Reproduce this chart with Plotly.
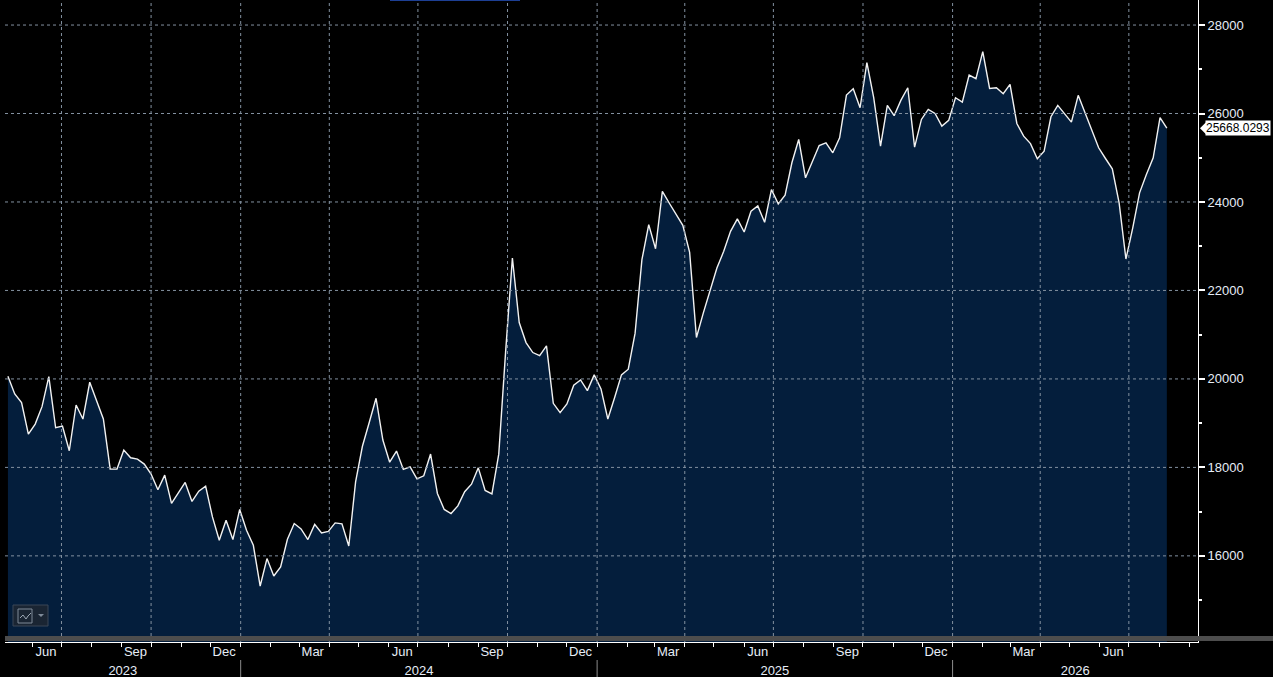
import pandas as pd
import plotly.graph_objects as go

# Serie semanal
START_DATE = "2023-05-07"
RANGE_START = "2023-05-04"
RANGE_END = "2026-09-10"

PRICES = [
    20060, 19660, 19463, 18754, 18980, 19373, 20052, 18897, 18935, 18376,
    19411, 19094, 19925, 19524, 19094, 17962, 17962, 18392, 18218, 18188,
    18075, 17849, 17495, 17826, 17185, 17425, 17660, 17230, 17463, 17576,
    16881, 16353, 16806, 16369, 17049, 16580, 16240, 15318, 15939, 15545,
    15749, 16376, 16732, 16610, 16369, 16712, 16519, 16555, 16745, 16723,
    16224, 17674, 18478, 19015, 19563, 18618, 18117, 18369, 17955, 18014,
    17742, 17810, 18301, 17411, 17049, 16958, 17130, 17450, 17620, 17990,
    17480, 17400, 18300, 20600, 22734, 21275, 20822, 20596, 20528, 20747,
    19449, 19237, 19434, 19857, 19977, 19735, 20091, 19774, 19094, 19580,
    20091, 20219, 21035, 22695, 23488, 22944, 24242, 23977, 23737, 23472,
    22861, 20936, 21488, 22016, 22507, 22884, 23336, 23617, 23322, 23790,
    23910, 23541, 24281, 23957, 24152, 24886, 25413, 24546, 24899, 25277,
    25338, 25112, 25451, 26416, 26560, 26130, 27150, 26357, 25262, 26183,
    25950, 26303, 26583, 25239, 25866, 26092, 26002, 25715, 25844, 26357,
    26258, 26870, 26788, 27399, 26568, 26583, 26447, 26658, 25775, 25488,
    25320, 24976, 25148, 25927, 26183, 25994, 25805, 26410, 26018, 25640,
    25225, 24983, 24750, 23979, 22711, 23413, 24206, 24620, 24998, 25905,
    25668.0293,
]

Y_TICKS = [16000, 18000, 20000, 22000, 24000, 26000, 28000]
Y_RANGE = [14053, 28566]
YEARS = [2023, 2024, 2025, 2026]
LABEL_MONTHS = [3, 6, 9, 12]

BG = "#000000"
FILL = "#041e3c"
GRID = "#8391a0"
TXT = "#e6edf7"
FONT = "Liberation Sans, Arial, sans-serif"

W, H = 1273, 677
DOM_B = (H - 642) / H      # base del área de trazado
SEP_TOP = (H - 660) / H    # separadores de año
YEAR_POS = (H - 661) / H

dates = pd.date_range(START_DATE, periods=len(PRICES), freq="7D")
r0, r1 = pd.Timestamp(RANGE_START), pd.Timestamp(RANGE_END)

# Etiquetas de mes (centradas a mitad de mes)
month_starts = pd.date_range(r0.replace(day=1), r1, freq="MS")
lbl_months = [m for m in month_starts if m.month in LABEL_MONTHS]
month_vals = [m + pd.Timedelta(days=14) for m in lbl_months]
month_text = [m.strftime("%b") for m in lbl_months]

# Etiquetas de año centradas en el tramo visible
year_vals, year_text = [], []
for yr in YEARS:
    a = max(pd.Timestamp(f"{yr}-01-01"), r0)
    b = min(pd.Timestamp(f"{yr + 1}-01-01"), r1)
    year_vals.append(a + (b - a) / 2)
    year_text.append(str(yr))

fig = go.Figure()
fig.add_trace(go.Scatter(
    x=dates, y=PRICES, mode="lines",
    line=dict(color="#f2f2f2", width=1.4),
    fill="tozeroy", fillcolor=FILL,
    showlegend=False, hoverinfo="x+y",
))
for ax in ("x2", "x3"):
    fig.add_trace(go.Scatter(x=[dates[0]], y=[None], xaxis=ax, mode="lines",
                             showlegend=False, hoverinfo="skip"))

shapes = []
# Rejilla punteada encima del relleno
quarter_starts = [m for m in month_starts if m.month in (1, 4, 7, 10) and r0 < m < r1]
for q in quarter_starts:
    shapes.append(dict(type="line", xref="x", yref="paper", x0=q, x1=q, y0=DOM_B, y1=1,
                       line=dict(color=GRID, width=1, dash="3px,3px"), layer="above"))
for v in Y_TICKS:
    shapes.append(dict(type="line", xref="paper", yref="y", x0=0, x1=1, y0=v, y1=v,
                       line=dict(color=GRID, width=1, dash="3px,3px"), layer="above"))
# Barra gris bajo el gráfico
shapes.append(dict(type="rect", xref="paper", yref="paper", x0=0, x1=1.07,
                   y0=DOM_B + 1 / H, y1=DOM_B + 6 / H, fillcolor="#4d4d4d",
                   line=dict(width=0), layer="above"))
# Separadores de año
for yr in YEARS[1:]:
    shapes.append(dict(type="line", xref="x", yref="paper", x0=f"{yr}-01-01", x1=f"{yr}-01-01",
                       y0=0, y1=SEP_TOP, line=dict(color="#8c8c8c", width=1)))
# Flecha de la etiqueta del último valor
shapes.append(dict(type="path", xref="paper", yref="y", xsizemode="pixel", ysizemode="pixel",
                   xanchor=1, yanchor=PRICES[-1], path="M 2 0 L 8 6 L 8 -6 Z",
                   fillcolor="white", line=dict(width=0), layer="above"))
# Botón de tipo de gráfico (abajo a la izquierda)
px_shape = dict(xref="paper", yref="paper", xsizemode="pixel", ysizemode="pixel",
                xanchor=0, yanchor=0, layer="above")
shapes.append(dict(px_shape, type="rect", x0=8, x1=43, y0=51, y1=72,
                   fillcolor="#1a2533", line=dict(color="#3a4756", width=1)))
shapes.append(dict(px_shape, type="rect", x0=13, x1=27, y0=54, y1=68,
                   fillcolor="#1a2533", line=dict(color="#7f8b99", width=1)))
shapes.append(dict(px_shape, type="path", path="M 15 59 L 18 62 L 21 58 L 23 61 L 26 64",
                   line=dict(color="#9aa6b3", width=1)))
shapes.append(dict(px_shape, type="path", path="M 33 63 L 39 63 L 36 60 Z",
                   fillcolor="#7f8b99", line=dict(width=0)))
# Línea azul superior (recortada)
shapes.append(dict(type="line", xref="paper", yref="paper", x0=(390 - 5) / 1193,
                   x1=(520 - 5) / 1193, y0=1, y1=1, line=dict(color="#1d3f94", width=2)))

fig.update_layout(
    width=W, height=H,
    margin=dict(l=5, r=75, t=0, b=0),
    paper_bgcolor=BG, plot_bgcolor=BG,
    font=dict(family=FONT, size=13, color=TXT),
    showlegend=False,
    shapes=shapes,
    xaxis=dict(
        type="date", range=[r0, r1], showgrid=False, zeroline=False,
        showline=True, linecolor="white", linewidth=1,
        ticks="outside", dtick="M1", tick0="2023-01-01", ticklen=4,
        tickcolor="white", showticklabels=False,
    ),
    xaxis2=dict(
        type="date", overlaying="x", anchor="y", side="bottom", range=[r0, r1],
        showgrid=False, zeroline=False, showline=False,
        tickmode="array", tickvals=month_vals, ticktext=month_text,
        ticks="", tickfont=dict(family=FONT, size=13, color=TXT),
    ),
    xaxis3=dict(
        type="date", overlaying="x", anchor="free", position=YEAR_POS, side="bottom",
        range=[r0, r1], showgrid=False, zeroline=False, showline=False,
        tickmode="array", tickvals=year_vals, ticktext=year_text, ticks="",
        tickfont=dict(family=FONT, size=13, color=TXT),
    ),
    yaxis=dict(
        side="right", range=Y_RANGE, domain=[DOM_B, 1],
        showgrid=False, zeroline=False,
        showline=True, linecolor="white", linewidth=1,
        tickmode="array", tickvals=Y_TICKS, tickformat="d",
        ticks="outside", ticklen=6, tickwidth=2, tickcolor="white",
        minor=dict(dtick=1000, ticks="outside", ticklen=3, tickcolor="white", showgrid=False),
        tickfont=dict(family=FONT, size=13, color=TXT),
    ),
    annotations=[dict(
        xref="paper", yref="y", x=1, y=PRICES[-1], xanchor="left", yanchor="middle",
        xshift=7, text=f"{PRICES[-1]:.4f}", showarrow=False,
        bgcolor="white", borderpad=0, font=dict(family=FONT, size=12, color="black"),
    )],
)

# Quitar el margen del body para que la figura ocupe la ventana completa
fig.write_html("out.html", config={"displayModeBar": False},
               post_script="document.body.style.margin='0';"
                           "document.body.style.overflow='hidden';")
